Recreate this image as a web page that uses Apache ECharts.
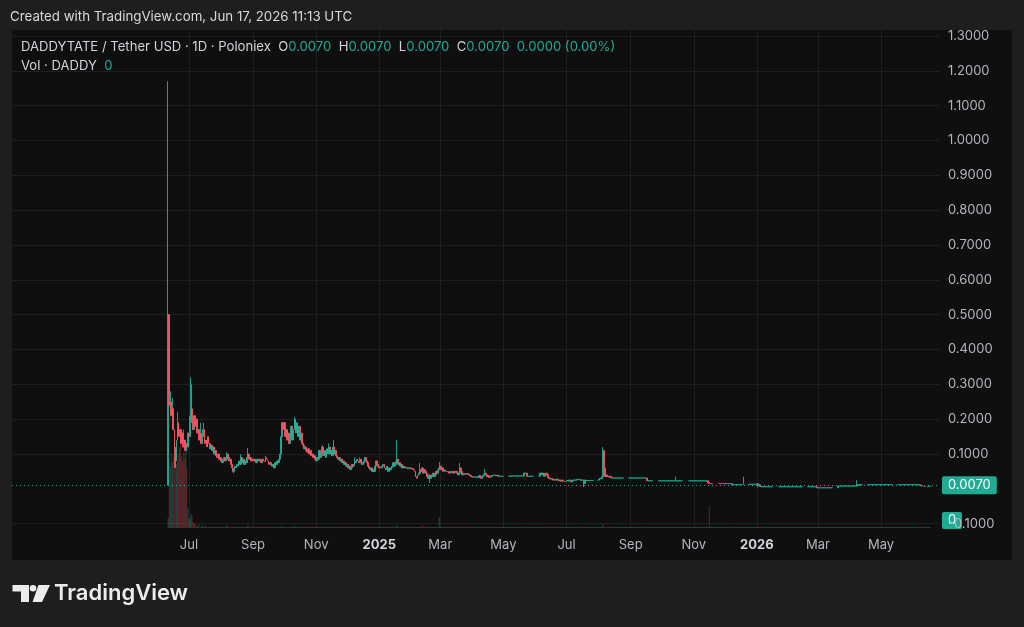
<!DOCTYPE html>
<html><head><meta charset="utf-8">
<script src="https://cdn.jsdelivr.net/npm/echarts@6/dist/echarts.min.js"></script>
<style>html,body{margin:0;padding:0;background:#1e1e1e;}#c{width:1024px;height:627px;}</style>
</head><body><div id="c"></div>
<script>
// ---------- data ----------
const startDate = '2024-06-11';          // first daily candle
const firstOpen = 0.01;                   // open of the first candle
const closes = [
/*0*/   0.50,0.24,0.25,0.21,0.23,0.17,0.12,0.08,0.14,0.19,
/*10*/  0.15,0.17,0.13,0.16,0.12,0.14,0.11,0.13,0.12,0.16,
/*20*/  0.15,0.19,0.23,0.20,0.17,0.21,0.18,0.20,0.16,0.17,
/*30*/  0.14,0.16,0.13,0.15,0.17,0.13,0.14,0.12,0.15,0.13,
/*40*/  0.115,0.125,0.11,0.12,0.10,0.11,0.095,0.09,0.10,0.085,
/*50*/  0.09,0.08,0.075,0.085,0.09,0.08,0.085,0.10,0.09,0.08,
/*60*/  0.085,0.07,0.06,0.05,0.065,0.06,0.07,0.065,0.08,0.07,
/*70*/  0.09,0.075,0.085,0.07,0.08,0.075,0.09,0.10,0.085,0.09,
/*80*/  0.08,0.085,0.08,0.085,0.08,0.075,0.085,0.08,0.085,0.08,
/*90*/  0.075,0.085,0.08,0.078,0.09,0.085,0.08,0.07,0.075,0.07,
/*100*/ 0.065,0.07,0.06,0.075,0.07,0.08,0.075,0.085,0.10,0.15,
/*110*/ 0.19,0.17,0.19,0.15,0.17,0.14,0.16,0.13,0.15,0.18,
/*120*/ 0.14,0.17,0.20,0.16,0.19,0.15,0.18,0.14,0.16,0.13,
/*130*/ 0.125,0.115,0.12,0.11,0.105,0.115,0.10,0.11,0.095,0.10,
/*140*/ 0.09,0.095,0.085,0.08,0.09,0.085,0.11,0.09,0.105,0.12,
/*150*/ 0.095,0.11,0.09,0.115,0.10,0.12,0.10,0.11,0.095,0.12,
/*160*/ 0.10,0.11,0.095,0.09,0.085,0.09,0.08,0.085,0.075,0.08,
/*170*/ 0.07,0.075,0.065,0.07,0.06,0.065,0.055,0.06,0.07,0.065,
/*180*/ 0.08,0.075,0.085,0.08,0.075,0.085,0.075,0.07,0.075,0.08,
/*190*/ 0.09,0.08,0.075,0.065,0.06,0.055,0.06,0.05,0.055,0.05,
/*200*/ 0.065,0.08,0.07,0.065,0.06,0.062,0.06,0.065,0.07,0.06,
/*210*/ 0.055,0.065,0.05,0.06,0.055,0.06,0.065,0.075,0.065,0.07,
/*220*/ 0.08,0.085,0.07,0.075,0.065,0.07,0.06,0.065,0.06,0.062,
/*230*/ 0.06,0.06,0.058,0.06,0.06,0.058,0.058,0.055,0.05,0.035,
/*240*/ 0.03,0.04,0.045,0.055,0.05,0.06,0.045,0.055,0.05,0.045,
/*250*/ 0.035,0.03,0.04,0.03,0.035,0.04,0.045,0.035,0.04,0.05,
/*260*/ 0.045,0.055,0.06,0.065,0.055,0.06,0.05,0.055,0.05,0.048,
/*270*/ 0.05,0.045,0.047,0.05,0.048,0.045,0.05,0.047,0.05,0.045,
/*280*/ 0.04,0.045,0.06,0.05,0.04,0.043,0.043,0.042,0.043,0.043,
/*290*/ 0.042,0.04,0.038,0.035,0.035,0.033,0.035,0.032,0.035,0.032,
/*300*/ 0.038,0.035,0.03,0.035,0.038,0.042,0.045,0.04,0.035,0.038,
/*310*/ 0.033,0.036,0.035,0.038,0.039,0.039,0.039,0.038,0.039,0.036,
/*320*/ 0.036,0.036,0.036,0.036,0.036,0.036,0.036,0.036,0.036,0.036,
/*330*/ 0.036,0.037,0.037,0.037,0.037,0.037,0.037,0.037,0.037,0.037,
/*340*/ 0.037,0.037,0.037,0.037,0.045,0.045,0.045,0.036,0.036,0.036,
/*350*/ 0.036,0.036,0.036,0.036,0.036,0.036,0.036,0.036,0.036,0.045,
/*360*/ 0.045,0.04,0.045,0.036,0.04,0.045,0.04,0.032,0.03,0.028,
/*370*/ 0.03,0.028,0.025,0.027,0.025,0.025,0.028,0.025,0.023,0.025,
/*380*/ 0.022,0.025,0.022,0.02,0.022,0.025,0.022,0.025,0.025,0.02,
/*390*/ 0.022,0.025,0.025,0.025,0.025,0.027,0.027,0.027,0.025,0.025,
/*400*/ 0.025,0.025,0.015,0.025,0.024,0.024,0.024,0.024,0.024,0.024,
/*410*/ 0.024,0.024,0.024,0.024,0.024,0.025,0.028,0.03,0.03,0.035,
/*420*/ 0.11,0.06,0.035,0.04,0.035,0.036,0.034,0.036,0.032,0.031,
/*430*/ 0.031,0.031,0.031,0.031,0.031,0.031,0.031,0.031,0.031,0.031,
/*440*/ 0.031,0.031,0.031,0.031,0.031,0.031,0.031,0.031,0.031,0.031,
/*450*/ 0.031,0.031,0.031,0.031,0.031,0.031,0.031,0.031,0.031,0.031,
/*460*/ 0.031,0.031,0.031,0.023,0.023,0.023,0.023,0.023,0.023,0.023,
/*470*/ 0.023,0.023,0.023,0.023,0.023,0.023,0.023,0.023,0.023,0.023,
/*480*/ 0.023,0.023,0.023,0.023,0.023,0.023,0.023,0.023,0.023,0.023,
/*490*/ 0.023,0.023,0.023,0.023,0.023,0.023,0.023,0.023,0.023,0.023,
/*500*/ 0.023,0.023,0.023,0.023,0.023,0.023,0.023,0.023,0.023,0.023,
/*510*/ 0.023,0.023,0.023,0.023,0.023,0.023,0.023,0.023,0.023,0.023,
/*520*/ 0.023,0.023,0.018,0.015,0.015,0.015,0.015,0.015,0.015,0.015,
/*530*/ 0.015,0.015,0.015,0.015,0.015,0.015,0.015,0.015,0.015,0.015,
/*540*/ 0.015,0.015,0.015,0.015,0.015,0.012,0.012,0.012,0.012,0.012,
/*550*/ 0.012,0.012,0.012,0.012,0.012,0.012,0.013,0.013,0.013,0.013,
/*560*/ 0.013,0.013,0.013,0.013,0.013,0.013,0.013,0.013,0.013,0.013,
/*570*/ 0.010,0.012,0.007,0.006,0.006,0.006,0.006,0.006,0.006,0.006,
/*580*/ 0.006,0.006,0.006,0.006,0.006,0.006,0.006,0.006,0.006,0.006,
/*590*/ 0.006,0.006,0.006,0.006,0.006,0.006,0.006,0.006,0.006,0.006,
/*600*/ 0.006,0.006,0.006,0.006,0.006,0.006,0.006,0.006,0.006,0.006,
/*610*/ 0.006,0.006,0.006,0.006,0.006,0.006,0.006,0.006,0.006,0.006,
/*620*/ 0.006,0.006,0.006,0.006,0.006,0.006,0.006,0.003,0.003,0.003,
/*630*/ 0.003,0.003,0.003,0.003,0.003,0.003,0.003,0.003,0.003,0.003,
/*640*/ 0.003,0.003,0.003,0.003,0.003,0.003,0.003,0.008,0.008,0.008,
/*650*/ 0.008,0.008,0.008,0.008,0.008,0.008,0.008,0.008,0.008,0.008,
/*660*/ 0.008,0.008,0.008,0.008,0.008,0.008,0.012,0.010,0.012,0.012,
/*670*/ 0.012,0.012,0.012,0.012,0.012,0.012,0.012,0.012,0.012,0.012,
/*680*/ 0.012,0.012,0.012,0.012,0.012,0.012,0.012,0.012,0.012,0.012,
/*690*/ 0.012,0.012,0.012,0.012,0.012,0.012,0.012,0.012,0.012,0.012,
/*700*/ 0.012,0.012,0.012,0.012,0.012,0.012,0.012,0.012,0.012,0.012,
/*710*/ 0.012,0.012,0.012,0.012,0.012,0.012,0.012,0.012,0.012,0.012,
/*720*/ 0.012,0.012,0.012,0.012,0.012,0.012,0.012,0.010,0.009,0.008,
/*730*/ 0.007,0.008,0.007,0.007,0.007,0.007,0.007
];
// upper wicks [dayIndex, high] and lower wicks [dayIndex, low]
const highs = [[0,1.17],[1,0.50],[2,0.28],[4,0.26],[9,0.22],[15,0.17],[21,0.21],[22,0.32],[23,0.30],
  [31,0.19],[34,0.19],[50,0.095],[57,0.105],[70,0.10],[77,0.117],[94,0.095],[122,0.206],[149,0.125],
  [155,0.13],[160,0.14],[180,0.09],[185,0.09],[221,0.14],[243,0.074],[262,0.077],[282,0.074],
  [306,0.057],[359,0.046],[420,0.12],[421,0.105],[491,0.035],[556,0.035],[570,0.016],[571,0.016],[666,0.025]];
const lows = [[6,0.06],[7,0.06],[63,0.045],[253,0.017],[402,0.005],[570,0.004]];
// daily volume (thousand DADDY) [dayIndex, volume]; unlisted days ~0
const volumes = [[0,120],[1,840],[2,744],[3,900],[4,792],[5,864],[6,936],[7,840],[8,768],[9,816],
  [10,888],[11,960],[12,1200],[13,864],[14,792],[15,912],[16,840],[17,936],[18,720],[19,240],
  [20,96],[21,120],[22,168],[23,144],[24,72],[25,48],[26,60],[28,36],[30,48],[33,36],[36,24],
  [44,24],[57,36],[77,36],[110,24],[122,24],[221,36],[246,36],[262,132],[420,48],[523,264]];
const timeTicks = ['2024-07-01','2024-09-01','2024-11-01','2025-01-01','2025-03-01','2025-05-01',
  '2025-07-01','2025-09-01','2025-11-01','2026-01-01','2026-03-01','2026-05-01'];
const priceTicks = [-0.1,0.1,0.2,0.3,0.4,0.5,0.6,0.7,0.8,0.9,1.0,1.1,1.2,1.3];
const monthNames = ['Jan','Feb','Mar','Apr','May','Jun','Jul','Aug','Sep','Oct','Nov','Dec'];
const xRange = ['2024-01-12','2026-06-27'];
const yRange = [-0.1125, 1.3173];
const volMax = 6000;

// ---------- build ----------
const UP = '#22ab94', DOWN = '#f7525f';
const DAY = 86400000;
const ts = s => Date.parse(s + 'T00:00:00Z');
const t0 = ts(startDate);
const dayOf = s => Math.round((ts(s) - t0) / DAY);   // days since first candle
const hiMap = new Map(highs), loMap = new Map(lows), volMap = new Map(volumes);
const candles = [], volData = [];
closes.forEach((c, i) => {
  const o = i === 0 ? firstOpen : closes[i - 1];
  const h = Math.max(o, c, hiMap.has(i) ? hiMap.get(i) : 0);
  const l = Math.min(o, c, loMap.has(i) ? loMap.get(i) : Infinity);
  candles.push([i, o, c, l, h]);
  volData.push({value: [i, volMap.get(i) || 0],
    itemStyle: {color: c >= o ? 'rgba(34,171,148,0.35)' : 'rgba(242,54,69,0.32)'}});
});
const last = candles[candles.length - 1];
const prevClose = closes[closes.length - 2];
const f4 = v => v.toFixed(4);
const chg = last[2] - prevClose;
const lastVol = volData[volData.length - 1].value[1];
const tickDays = timeTicks.map(dayOf);

const chart = echarts.init(document.getElementById('c'));
const FONT = 'Inter';
chart.setOption({
  backgroundColor: '#1e1e1e',
  animation: false,
  textStyle: {fontFamily: FONT},
  graphic: [
    {type: 'rect', z: -100, silent: true, shape: {x: 12, y: 30, width: 1000, height: 530}, style: {fill: '#0f0f0f'}},
    {type: 'text', x: 10, y: 17, style: {text: 'Created with TradingView.com, Jun 17, 2026 11:13 UTC',
      fill: '#d9d9d9', fontSize: 13.3, fontFamily: FONT, verticalAlign: 'middle'}},
    {type: 'text', x: 21, y: 47, z: 50, style: {
      text: 'DADDYTATE / Tether USD · 1D · Poloniex  O{v|' + f4(last[1]) + '}  H{v|' + f4(last[4]) +
        '}  L{v|' + f4(last[3]) + '}  C{v|' + f4(last[2]) + '}  {v|' + f4(chg) + ' (' +
        (chg / prevClose * 100).toFixed(2) + '%)}',
      fill: '#d1d4dc', fontSize: 13.1, fontFamily: FONT, verticalAlign: 'middle',
      rich: {v: {fill: UP, fontSize: 13.1, fontFamily: FONT}}}},
    {type: 'text', x: 21, y: 66, z: 50, style: {text: 'Vol · DADDY  {v|' + lastVol + '}',
      fill: '#d1d4dc', fontSize: 13.1, fontFamily: FONT, verticalAlign: 'middle',
      rich: {v: {fill: UP, fontSize: 13.1, fontFamily: FONT}}}},
    {type: 'group', z: 100, children: [
      {type: 'rect', shape: {x: 942, y: 512, width: 20, height: 17, r: 2}, style: {fill: UP}},
      {type: 'text', x: 952, y: 520.5, style: {text: String(lastVol), fill: '#ffffff', fontSize: 13,
        fontFamily: FONT, align: 'center', verticalAlign: 'middle'}}]},
    {type: 'group', children: [
      {type: 'polygon', shape: {points: [[12.5,585],[29,585],[29,602],[21,602],[21,591.5],[12.5,591.5]]}, style: {fill: '#ececec'}},
      {type: 'circle', shape: {cx: 33, cy: 588.3, r: 3.3}, style: {fill: '#ececec'}},
      {type: 'polygon', shape: {points: [[38.5,585],[50,585],[42,602],[32.5,602]]}, style: {fill: '#ececec'}},
      {type: 'text', x: 54, y: 593.5, style: {text: 'TradingView', fill: '#ececec', fontSize: 22,
        fontWeight: 600, fontFamily: FONT, verticalAlign: 'middle'}}]}
  ],
  grid: {left: 12, right: 84, top: 30, bottom: 99},
  xAxis: {
    type: 'value', min: dayOf(xRange[0]), max: dayOf(xRange[1]),
    axisLine: {show: false},
    axisTick: {show: false, customValues: tickDays},
    axisLabel: {customValues: tickDays, color: '#b2b5be', fontSize: 13, margin: 11,
      formatter: v => { const d = new Date(t0 + v * DAY); const m = d.getUTCMonth();
        return m === 0 ? '{b|' + d.getUTCFullYear() + '}' : monthNames[m]; },
      rich: {b: {fontWeight: 'bold', color: '#d1d4dc', fontSize: 13}}},
    splitLine: {show: true, lineStyle: {color: '#1f1f1f', width: 1}}
  },
  yAxis: [{
    type: 'value', position: 'right', min: yRange[0], max: yRange[1],
    axisLine: {show: false},
    axisTick: {show: false, customValues: priceTicks},
    axisLabel: {customValues: priceTicks, formatter: v => f4(v), color: '#b2b5be', fontSize: 13, margin: 8},
    splitLine: {show: true, lineStyle: {color: '#1f1f1f', width: 1}}
  }, {
    type: 'value', min: 0, max: volMax, show: false
  }],
  series: [{
    type: 'bar', name: 'Vol', xAxisIndex: 0, yAxisIndex: 1, data: volData,
    barWidth: 1.2, barMinHeight: 1, silent: true, z: 1
  }, {
    type: 'candlestick', name: 'DADDYTATE', data: candles, encode: {x: 0, y: [1, 2, 3, 4]},
    barWidth: 1.35, large: false, z: 3,
    itemStyle: {color: UP, color0: DOWN, borderColor: UP, borderColor0: DOWN, borderColorDoji: UP, borderWidth: 0.9},
    markLine: {
      symbol: 'none', silent: true, animation: false,
      lineStyle: {color: UP, type: [1, 3], width: 1},
      data: [{yAxis: last[2]}],
      label: {position: 'end', distance: 2, formatter: () => f4(last[2]), color: '#ffffff',
        backgroundColor: UP, padding: [3, 6, 2, 6], fontSize: 13, borderRadius: 2}
    }
  }]
});
</script>
</body></html>
